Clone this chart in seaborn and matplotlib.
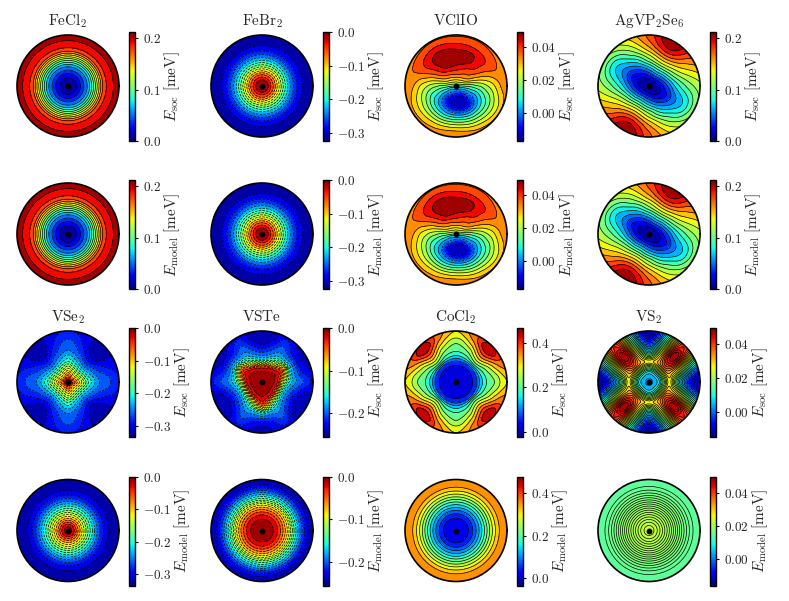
import numpy as np
import matplotlib
matplotlib.use('Agg')
import matplotlib.pyplot as plt
import seaborn as sns
from matplotlib.cm import ScalarMappable
from matplotlib.colors import Normalize

sns.set_style('white')
plt.rcParams['mathtext.fontset'] = 'cm'
plt.rcParams['font.family'] = ['cmr10', 'DejaVu Sans']
plt.rcParams['axes.formatter.use_mathtext'] = True
plt.rcParams['axes.unicode_minus'] = False

radii = np.linspace(0, 1, 11)

# one radial profile each for the round maps
fecl2 = [0, .006, .02, .04, .063, .098, .138, .175, .189, .199, .212]
febr2 = [0, -.015, -.055, -.11, -.165, -.215, -.255, -.285, -.305, -.32, -.325]
vse2_model = [0, -.03, -.08, -.13, -.18, -.225, -.265, -.295, -.315, -.328, -.333]
vste_model = [0, -.005, -.012, -.028, -.055, -.09, -.135, -.175, -.21, -.235, -.25]
cocl2_model = [0, .005, .02, .05, .095, .15, .21, .27, .32, .355, .37]
vs2_model = [.0232, .0227, .0219, .0209, .0198, .0186, .0174, .0163, .0154, .0148, .0145]

# VClIO: rows are radii, columns phi = 0, 30, ... 330
vclio = [
    [.012, .012, .012, .012, .012, .012, .012, .012, .012, .012, .012, .012],
    [.012, .019, .023, .024, .023, .019, .013, .004, .001, -.002, .000, .004],
    [.013, .027, .032, .034, .032, .027, .015, .003, -.006, -.011, -.010, .000],
    [.014, .032, .037, .040, .039, .032, .016, .003, -.010, -.016, -.012, .000],
    [.016, .034, .041, .045, .045, .035, .018, .005, -.007, -.013, -.012, .000],
    [.018, .036, .045, .048, .048, .037, .020, .008, .000, -.005, -.006, .004],
    [.021, .037, .046, .049, .049, .039, .023, .013, .008, .006, .004, .009],
    [.024, .038, .045, .046, .047, .040, .026, .019, .016, .016, .013, .014],
    [.028, .038, .041, .042, .043, .039, .030, .024, .024, .025, .021, .020],
    [.032, .036, .038, .038, .039, .037, .033, .029, .030, .032, .028, .025],
    [.034, .034, .035, .035, .035, .034, .034, .033, .033, .035, .033, .031],
]

# AgVP2Se6: two-fold, columns phi = 0, 30, ... 150
agvp = [
    [0, 0, 0, 0, 0, 0],
    [.004, .008, .010, .008, .004, .002],
    [.016, .028, .035, .028, .015, .009],
    [.032, .052, .065, .052, .030, .020],
    [.050, .080, .095, .078, .048, .030],
    [.070, .105, .125, .105, .066, .045],
    [.085, .125, .150, .125, .083, .057],
    [.097, .140, .175, .145, .100, .067],
    [.107, .150, .195, .160, .113, .078],
    [.115, .158, .207, .170, .125, .095],
    [.122, .165, .212, .175, .135, .110],
]

# eight-fold patterns: phi = 0, 22.5 and 45 degrees
vse2_phi0 = [0, -.06, -.105, -.15, -.195, -.225, -.25, -.26, -.268, -.28, -.29]
vse2_phi22 = [0, -.07, -.125, -.175, -.22, -.25, -.272, -.285, -.295, -.3, -.305]
vse2_phi45 = [0, -.085, -.135, -.19, -.24, -.275, -.3, -.32, -.33, -.33, -.32]

cocl2_phi0 = [0, .002, .01, .03, .07, .14, .19, .215, .24, .28, .305]
cocl2_phi22 = [0, .002, .011, .03, .072, .16, .215, .26, .31, .35, .37]
cocl2_phi45 = [0, .002, .012, .03, .075, .2, .28, .35, .41, .455, .42]

vs2_phi0 = [.003, .004, .008, .018, .027, .018, .008, 0, -.007, -.012, -.014]
vs2_phi22 = [.003, .004, .009, .02, .03, .029, .026, .021, .016, .011, .008]
vs2_phi45 = [.003, .004, .01, .022, .034, .041, .046, .048, .046, .042, .04]

# VSTe: three-fold, phi = 30, 45, 60, 75, 90
vste_phi30 = [0, -.003, -.008, -.016, -.035, -.085, -.16, -.2, -.225, -.24, -.245]
vste_phi45 = [0, -.003, -.009, -.022, -.06, -.12, -.175, -.2, -.22, -.23, -.24]
vste_phi60 = [0, -.004, -.01, -.03, -.1, -.15, -.18, -.195, -.205, -.215, -.225]
vste_phi75 = [0, -.004, -.011, -.04, -.125, -.175, -.2, -.215, -.23, -.24, -.24]
vste_phi90 = [0, -.004, -.012, -.05, -.135, -.185, -.21, -.23, -.245, -.25, -.245]

names = ['FeCl_2', 'FeBr_2', 'VClIO', 'AgVP_2Se_6', 'VSe_2', 'VSTe', 'CoCl_2', 'VS_2']
# colorbar limits, one pair per panel, and ticks
soc_limits = [(0, .212), (-.325, 0), (-.0175, .0495), (0, .212),
              (-.335, 0), (-.255, 0), (-.022, .466), (-.015, .0495)]
model_limits = [(0, .212), (-.325, 0), (-.0175, .0495), (0, .212),
                (-.335, 0), (-.255, 0), (-.033, .48), (-.0157, .05)]
panel_ticks = [[0, .1, .2], [-.3, -.2, -.1, 0], [0, .02, .04], [0, .1, .2],
               [-.3, -.2, -.1, 0], [-.2, -.1, 0], [0, .2, .4], [0, .02, .04]]
tick_formats = ['%.1f', '%.1f', '%.2f', '%.1f', '%.1f', '%.1f', '%.1f', '%.2f']
soc_levels = [16, 16, 15, 16, 18, 18, 13, 26]
model_levels = [16, 16, 15, 16, 18, 18, 13, 19]


def eightfold(a, b, c):
    row = np.column_stack([a, b, c, b])
    return np.tile(row, 4)


def threefold(*cols):
    row = np.column_stack(list(cols) + list(cols[-2:0:-1]))
    return np.tile(row, 3)


soc_tables = [
    (fecl2, 0), (febr2, 0), (vclio, 0), (np.tile(agvp, 2), 0),
    (eightfold(vse2_phi0, vse2_phi22, vse2_phi45), 0),
    (threefold(vste_phi30, vste_phi45, vste_phi60, vste_phi75, vste_phi90), 30),
    (eightfold(cocl2_phi0, cocl2_phi22, cocl2_phi45), 0),
    (eightfold(vs2_phi0, vs2_phi22, vs2_phi45), 0),
]
model_tables = [
    (fecl2, 0), (febr2, 0), (vclio, 0), (np.tile(agvp, 2), 0),
    (vse2_model, 0), (vste_model, 0), (cocl2_model, 0), (vs2_model, 0),
]


def hermite(values, x, x_new):
    """Cubic Hermite resampling along axis 0"""
    slopes = np.gradient(values, x, axis=0)
    i = np.clip(np.searchsorted(x, x_new) - 1, 0, len(x) - 2)
    h = (x[i + 1] - x[i])[:, None]
    t = (x_new - x[i])[:, None] / h
    return ((2*t**3 - 3*t**2 + 1) * values[i] + (t**3 - 2*t**2 + t) * h * slopes[i]
            + (-2*t**3 + 3*t**2) * values[i + 1] + (t**3 - t**2) * h * slopes[i + 1])


def polar_field(table, start):
    """Fine phi, r and value arrays for one panel"""
    table = np.asarray(table, dtype=float)
    if table.ndim == 1:
        table = np.tile(table[:, None], 4)
    n = table.shape[1]
    step = 360.0 / n
    wrapped = np.hstack([table[:, -2:], table, table[:, :3]])
    phi = start + step * np.arange(-2, n + 3)
    phi_fine = np.linspace(start, start + 360, 361)
    by_phi = hermite(wrapped.T, phi, phi_fine)
    r_fine = np.linspace(0, 1, 201)
    field = hermite(by_phi.T, radii, r_fine)
    return np.radians(phi_fine), r_fine, field


W, H = 789, 601
col_x = [68, 262, 456, 649]
row_y = [86, 234, 382, 530.5]
bar_h = 109
radius = 51
cmap = plt.get_cmap('jet')

fig = plt.figure(figsize=(W / 100, H / 100), dpi=100)


def draw_panel(cx, cy, table, start, limits, n_levels, ticks, fmt, sub, title=None):
    ax = fig.add_axes([(cx - radius) / W, 1 - (cy + radius) / H, 2 * radius / W, 2 * radius / H],
                      projection='polar')
    phi, r, field = polar_field(table, start)
    norm = Normalize(*limits)
    levels = np.linspace(field.min(), field.max(), n_levels)
    ax.contourf(phi, r, field, levels=levels, cmap=cmap, norm=norm)
    ax.contour(phi, r, field, levels=levels, colors='k', linewidths=0.5)
    ax.plot(0, 0, 'o', color='k', ms=3.2)
    ax.set_ylim(0, 1)
    ax.set_xticks([])
    ax.set_yticks([])
    ax.grid(False)
    ax.spines['polar'].set_linewidth(1.2)
    ax.spines['polar'].set_color('k')
    if title:
        ax.set_title('$\\mathrm{%s}$' % title, fontsize=11, pad=7)

    cax = fig.add_axes([(cx + 61) / W, 1 - (cy + 55) / H, 6 / W, bar_h / H])
    cb = fig.colorbar(ScalarMappable(norm=norm, cmap=cmap), cax=cax)
    cb.set_ticks(ticks)
    cb.set_ticklabels(['$%s$' % (fmt % t) for t in ticks])
    cb.ax.tick_params(labelsize=9.5, length=2.5, width=0.8, pad=3, color='k')
    cb.outline.set_linewidth(1.0)
    cb.outline.set_edgecolor('k')
    cb.set_label('$E_{\\mathrm{%s}}\\ [\\mathrm{meV}]$' % sub, fontsize=11, labelpad=1)


for k in range(8):
    col = k % 4
    block = k // 4
    table, start = soc_tables[k]
    draw_panel(col_x[col], row_y[2 * block], table, start, soc_limits[k], soc_levels[k],
               panel_ticks[k], tick_formats[k], 'soc', title=names[k])
    table, start = model_tables[k]
    draw_panel(col_x[col], row_y[2 * block + 1], table, start, model_limits[k], model_levels[k],
               panel_ticks[k], tick_formats[k], 'model')

fig.savefig('out.png', dpi=100)
